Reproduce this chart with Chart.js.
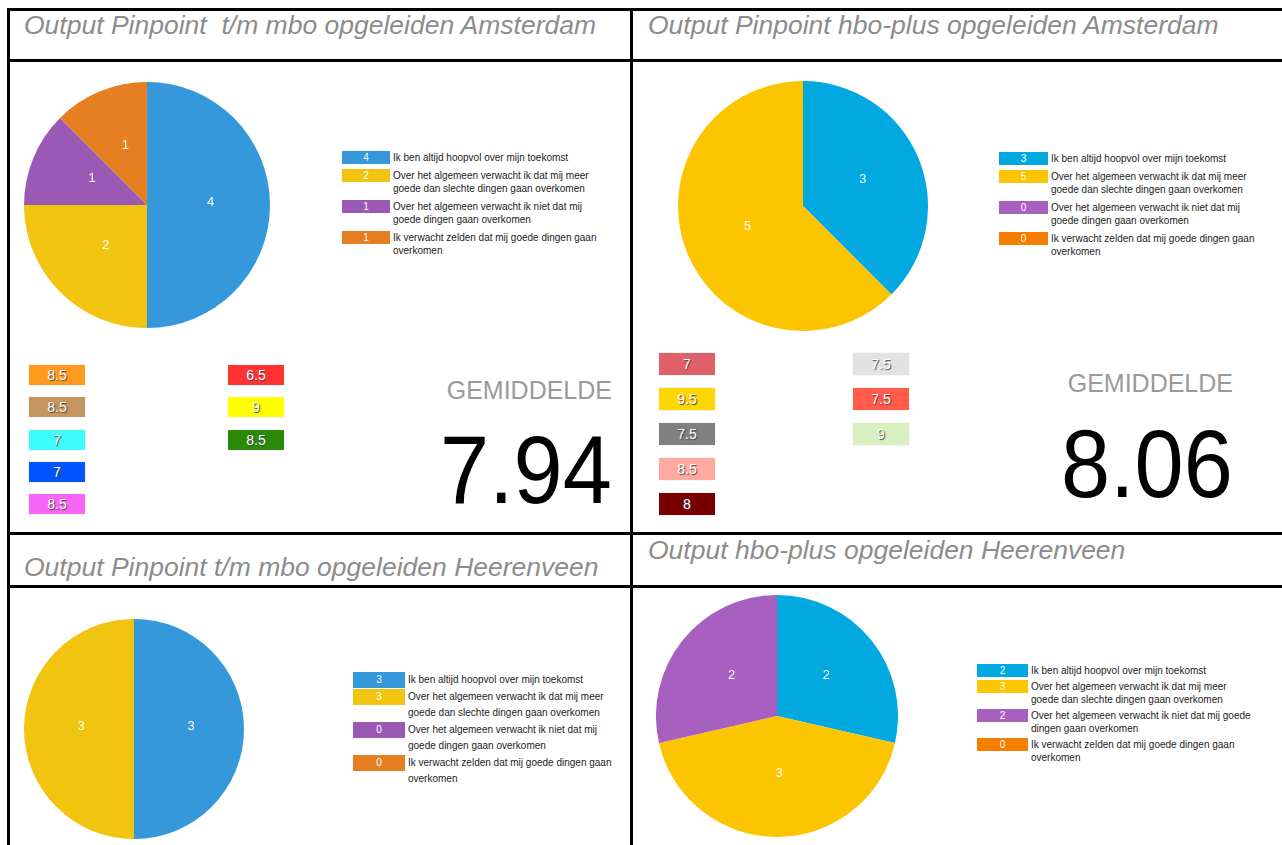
<!DOCTYPE html>
<html>
<head>
<meta charset="utf-8">
<script src="https://cdn.jsdelivr.net/npm/chart.js@4.4.1/dist/chart.umd.min.js"></script>
<style>
    html, body { margin: 0; padding: 0; background: #fff; }
    body { width: 1282px; height: 845px; position: relative; overflow: hidden; font-family: "Liberation Sans", Arial, sans-serif; }
    .line { position: absolute; background: #000; }
    .title { position: absolute; font-style: italic; color: #8c8c8c; font-size: 26.5px; white-space: pre; }
    .pie { position: absolute; }
    .legend { position: absolute; font-size: 10px; color: #222; }
    .legend-row { display: flex; align-items: flex-start; }
    .legend-box { flex: none; color: #fff; text-align: center; font-size: 10px; margin-right: 3px; }
    .score { position: absolute; width: 56px; text-align: center; color: #fff; font-size: 14px; text-shadow: 1px 1px 1px #444; box-shadow: 0 0 1px #ccc; }
    .avg-label { position: absolute; color: #9a9a9a; font-size: 25px; text-align: right; }
    .avg-value { position: absolute; color: #000; font-size: 97px; text-align: right; transform: scaleX(0.91); transform-origin: right top; }
</style>
</head>
<body>

<script>
// Answer categories (same for every pie)
const answerLabels = [
    'Ik ben altijd hoopvol over mijn toekomst',
    'Over het algemeen verwacht ik dat mij meer goede dan slechte dingen gaan overkomen',
    'Over het algemeen verwacht ik niet dat mij goede dingen gaan overkomen',
    'Ik verwacht zelden dat mij goede dingen gaan overkomen'
];

// Counts per group
const amsMboCounts = [4, 2, 1, 1];
const amsHboCounts = [3, 5, 0, 0];
const hvnMboCounts = [3, 3, 0, 0];
const hvnHboCounts = [2, 3, 2, 0];

// Slice colours
const flatColors = ['#3498db', '#f1c40f', '#9b59b6', '#e67e22'];
const brightColors = ['#02a8e0', '#fcc500', '#a75fc0', '#f67f00'];

// Grades (Amsterdam)
const amsMboScores = [8.5, 8.5, 7, 7, 8.5, 6.5, 9, 8.5];
const amsMboScoreColors = ['#ff9a1f', '#c4955e', '#3ffcfc', '#0055ff', '#f566f7', '#ff3333', '#ffff00', '#2a8a0a'];
const amsHboScores = [7, 9.5, 7.5, 8.5, 8, 7.5, 7.5, 9];
const amsHboScoreColors = ['#e0606a', '#ffd700', '#808080', '#ffaaa0', '#7a0000', '#e2e2e2', '#ff5a4a', '#d8f0c0'];

const titles = [
    'Output Pinpoint  t/m mbo opgeleiden Amsterdam',
    'Output Pinpoint hbo-plus opgeleiden Amsterdam',
    'Output Pinpoint t/m mbo opgeleiden Heerenveen',
    'Output hbo-plus opgeleiden Heerenveen'
];

// Table lines
function addLine(x, y, w, h) {
    const d = document.createElement('div');
    d.className = 'line';
    d.style.left = x + 'px';
    d.style.top = y + 'px';
    d.style.width = w + 'px';
    d.style.height = h + 'px';
    document.body.appendChild(d);
}
addLine(7, 8, 1275, 3);
addLine(7, 59, 1275, 3);
addLine(7, 532, 1275, 3);
addLine(7, 585, 1275, 3);
addLine(7, 8, 3, 837);
addLine(630, 8, 3, 837);

function addTitle(text, x, y) {
    const d = document.createElement('div');
    d.className = 'title';
    d.textContent = text;
    d.style.left = x + 'px';
    d.style.top = y + 'px';
    document.body.appendChild(d);
}
addTitle(titles[0], 24, 10);
addTitle(titles[1], 648, 10);
addTitle(titles[2], 24, 552);
addTitle(titles[3], 648, 535);

// Value labels in the slices
const sliceLabels = {
    id: 'sliceLabels',
    afterDatasetsDraw(chart) {
        const ctx = chart.ctx;
        const meta = chart.getDatasetMeta(0);
        const values = chart.data.datasets[0].data;
        ctx.save();
        ctx.fillStyle = '#fff';
        ctx.font = '13px "Liberation Sans", Arial, sans-serif';
        ctx.textAlign = 'center';
        ctx.textBaseline = 'middle';
        meta.data.forEach((arc, i) => {
            if (!values[i]) return;
            const pos = arc.tooltipPosition();
            ctx.fillText(values[i], pos.x + 2, pos.y - 3);
        });
        ctx.restore();
    }
};

function makePie(counts, colors, cx, cy, r) {
    const canvas = document.createElement('canvas');
    canvas.className = 'pie';
    canvas.width = r * 2;
    canvas.height = r * 2;
    canvas.style.left = (cx - r) + 'px';
    canvas.style.top = (cy - r) + 'px';
    document.body.appendChild(canvas);

    new Chart(canvas.getContext('2d'), {
        type: 'pie',
        data: {
            labels: answerLabels,
            datasets: [{
                data: counts,
                backgroundColor: colors,
                borderWidth: 0,
                hoverOffset: 0
            }]
        },
        options: {
            responsive: false,
            animation: false,
            devicePixelRatio: 1,
            layout: { padding: 0 },
            plugins: {
                legend: { display: false },
                tooltip: { enabled: false }
            }
        },
        plugins: [sliceLabels]
    });
}

function makeLegend(counts, colors, x, y, boxWidth, textWidth, lineHeight, gap) {
    const wrap = document.createElement('div');
    wrap.className = 'legend';
    wrap.style.left = x + 'px';
    wrap.style.top = y + 'px';
    answerLabels.forEach((label, i) => {
        const row = document.createElement('div');
        row.className = 'legend-row';
        row.style.marginBottom = gap + 'px';
        row.innerHTML = `
            <div class="legend-box" style="width:${boxWidth}px;background:${colors[i]};height:${lineHeight}px;line-height:${lineHeight}px">${counts[i]}</div>
            <div style="width:${textWidth}px;line-height:${lineHeight}px">${label}</div>`;
        wrap.appendChild(row);
    });
    document.body.appendChild(wrap);
}

function makeScores(scores, colors, x1, x2, y, step, h) {
    scores.forEach((s, i) => {
        const d = document.createElement('div');
        d.className = 'score';
        const col = i < 5 ? 0 : 1;
        const row = i < 5 ? i : i - 5;
        d.style.left = (col ? x2 : x1) + 'px';
        d.style.top = (y + row * step) + 'px';
        d.style.height = h + 'px';
        d.style.lineHeight = h + 'px';
        d.style.background = colors[i];
        d.textContent = s;
        document.body.appendChild(d);
    });
}

function makeAverage(scores, right, labelTop, valueTop) {
    const avg = scores.reduce((a, b) => a + b, 0) / scores.length;
    const l = document.createElement('div');
    l.className = 'avg-label';
    l.textContent = 'GEMIDDELDE';
    l.style.right = (1282 - right) + 'px';
    l.style.top = labelTop + 'px';
    document.body.appendChild(l);

    const v = document.createElement('div');
    v.className = 'avg-value';
    v.textContent = avg.toFixed(2);
    v.style.right = (1282 - right) + 'px';
    v.style.top = valueTop + 'px';
    document.body.appendChild(v);
}

makePie(amsMboCounts, flatColors, 147, 205, 123);
makePie(amsHboCounts, brightColors, 803, 206, 125);
makePie(hvnMboCounts, flatColors, 134, 729, 110);
makePie(hvnHboCounts, brightColors, 777, 716, 121);

makeLegend(amsMboCounts, flatColors, 342, 151, 48, 210, 13, 5);
makeLegend(amsHboCounts, brightColors, 999, 152, 49, 210, 13, 5);
makeLegend(hvnMboCounts, flatColors, 353, 672, 52, 215, 16, 1);
makeLegend(hvnHboCounts, brightColors, 977, 664, 51, 222, 13, 3);

makeScores(amsMboScores, amsMboScoreColors, 29, 228, 365, 32.3, 20);
makeScores(amsHboScores, amsHboScoreColors, 659, 853, 353, 35, 22);

makeAverage(amsMboScores, 612, 376, 414);
makeAverage(amsHboScores, 1233, 369, 408);
</script>
</body>
</html>
